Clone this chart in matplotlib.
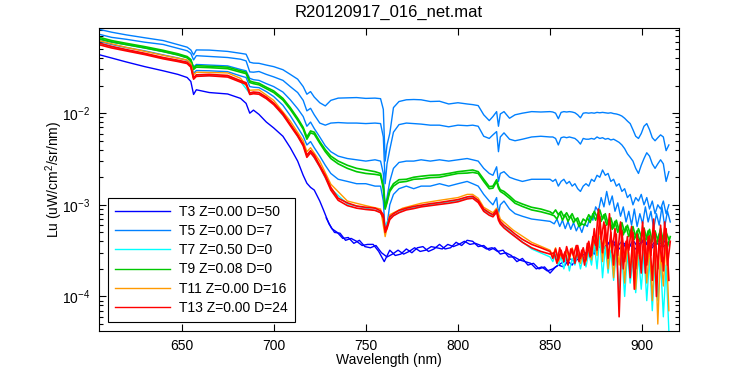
import numpy as np
import matplotlib
matplotlib.use('Agg')
import matplotlib.pyplot as plt
from matplotlib.ticker import LogLocator, FixedLocator, NullFormatter

plt.rcParams['font.family'] = ['Liberation Sans', 'DejaVu Sans']
plt.rcParams['font.size'] = 10
plt.rcParams['mathtext.fontset'] = 'custom'
plt.rcParams['mathtext.rm'] = 'Liberation Sans'
plt.rcParams['axes.unicode_minus'] = False

#------------------------
# Data (Lu in uW/cm^2/sr/nm)
#------------------------
# common wavelength grid for the smooth part of the spectra
wl_smooth = [605, 612, 620, 630, 640, 648, 653, 655, 656.5, 658, 665, 675, 682, 685, 687, 689,
             692, 696, 700, 705, 709, 713, 716, 718, 720, 722, 725, 728, 731, 735, 740, 745,
             750, 755, 758, 759.5, 760.5, 761.5, 763, 765, 768, 772, 776, 780, 785, 790, 795,
             800, 805, 808, 811, 814, 817, 819, 821, 822, 823, 825, 828, 831, 835, 840, 845, 850]
# noisy tail grids (second casts sampled half a step later)
wl_tail = np.arange(851.5, 915.0, 1.5)
wl_tail_b = np.arange(852.25, 915.5, 1.5)
# sparse grid for the mostly hidden T7 / T11 traces
wl_sparse = [605, 620, 640, 653, 655, 656.5, 658, 675, 682, 687, 692, 700, 709, 716, 718, 720,
             725, 731, 740, 750, 758, 760.5, 763, 770, 780, 790, 800, 805, 808, 811, 814, 819,
             821, 823, 830, 840, 850]
# T3 grid: smooth part then 3 nm steps in the noisy part
wl_t3_head = wl_smooth[:27]
wl_t3_noisy = np.arange(727, 914, 3)
wl_t3_noisy_b = np.arange(728.5, 915, 3)

# T3 Z=0.00 D=50
t3_head = [0.0436, 0.0400, 0.0362, 0.0322, 0.0290, 0.0265, 0.0245, 0.0222, 0.0160, 0.0180,
           0.0168, 0.0162, 0.0145, 0.0128, 0.0100, 0.0108, 0.0097, 0.0080, 0.0069, 0.0056,
           0.0042, 0.0030, 0.0021, 0.00172, 0.00155, 0.00145, 0.00110]
t3_a = [0.00088, 0.00062, 0.00050, 0.00049, 0.00041, 0.00043, 0.00040, 0.00036, 0.00037, 0.00037,
        0.00031, 0.00024, 0.00032, 0.00028, 0.00029, 0.00033, 0.00030, 0.00034, 0.00035, 0.00031,
        0.00033, 0.00037, 0.00033, 0.00034, 0.00039, 0.00036, 0.00041, 0.00040, 0.00035, 0.00036,
        0.00032, 0.00034, 0.00029, 0.00030, 0.00028, 0.00024, 0.00026, 0.00022, 0.00023, 0.00020,
        0.00021, 0.00018, 0.00021, 0.00023, 0.00025, 0.00022, 0.00028, 0.00025, 0.00034, 0.00029,
        0.00040, 0.00033, 0.00042, 0.00034, 0.00040, 0.00032, 0.00041, 0.00034, 0.00043, 0.00033,
        0.00040, 0.00035, 0.00042]
t3_b = [0.00072, 0.00055, 0.00050, 0.00043, 0.00044, 0.00038, 0.00041, 0.00035, 0.00034, 0.00036,
        0.00030, 0.00027, 0.00029, 0.00032, 0.00029, 0.00031, 0.00034, 0.00031, 0.00032, 0.00035,
        0.00034, 0.00033, 0.00037, 0.00035, 0.00037, 0.00040, 0.00037, 0.00038, 0.00036, 0.00033,
        0.00034, 0.00031, 0.00032, 0.00027, 0.00027, 0.00025, 0.00024, 0.00023, 0.00020, 0.00021,
        0.00019, 0.00020, 0.00022, 0.00021, 0.00026, 0.00024, 0.00027, 0.00030, 0.00028, 0.00036,
        0.00033, 0.00038, 0.00040, 0.00033, 0.00038, 0.00036, 0.00033, 0.00040, 0.00037, 0.00034,
        0.00041, 0.00035, 0.00039]

# T5 Z=0.00 D=7 (four casts at different levels)
t5_1 = [0.0824, 0.0765, 0.0715, 0.0665, 0.0620, 0.0560, 0.0525, 0.0490, 0.0432, 0.0490,
        0.0488, 0.0472, 0.0450, 0.0440, 0.0360, 0.0352, 0.0350, 0.0335, 0.0322, 0.0298,
        0.0265, 0.0235, 0.0195, 0.0161, 0.0172, 0.0150, 0.0130, 0.0120, 0.0138, 0.0146,
        0.0147, 0.0148, 0.0145, 0.0146, 0.0144, 0.0110, 0.0030, 0.0045, 0.0060, 0.0115,
        0.0134, 0.0140, 0.0141, 0.0140, 0.0134, 0.0135, 0.0126, 0.0130, 0.0126, 0.0124,
        0.0121, 0.0096, 0.0083, 0.0092, 0.0104, 0.0072, 0.0098, 0.0104, 0.0088, 0.0096,
        0.0100, 0.0104, 0.0103, 0.0104]
t5_1_tail = [0.0103, 0.0100, 0.0087, 0.0102, 0.0104, 0.0103, 0.0104, 0.0103, 0.0101, 0.0096,
             0.0089, 0.0100, 0.0101, 0.0100, 0.0101, 0.0100, 0.0102, 0.0101, 0.0102, 0.0101,
             0.0100, 0.0101, 0.0099, 0.0098, 0.0096, 0.0093, 0.0088, 0.0082, 0.0077, 0.0066,
             0.0056, 0.0053, 0.0060, 0.0072, 0.0077, 0.0066, 0.0054, 0.0050, 0.0054, 0.0058,
             0.0055, 0.0039, 0.0045]
t5_2 = [0.0728, 0.0672, 0.0640, 0.0595, 0.0562, 0.0510, 0.0480, 0.0450, 0.0381, 0.0424,
        0.0416, 0.0405, 0.0388, 0.0372, 0.0282, 0.0280, 0.0285, 0.0265, 0.0249, 0.0228,
        0.0195, 0.0168, 0.0138, 0.0106, 0.0113, 0.0096, 0.0078, 0.0074, 0.0078, 0.0079,
        0.0078, 0.0078, 0.0077, 0.0078, 0.0077, 0.0055, 0.0017, 0.0028, 0.0040, 0.0062,
        0.0075, 0.0078, 0.0077, 0.0076, 0.0074, 0.0074, 0.0071, 0.0074, 0.0073, 0.0074,
        0.0072, 0.0056, 0.0053, 0.0058, 0.0063, 0.0038, 0.0055, 0.0061, 0.0052, 0.0050,
        0.0052, 0.0055, 0.0056, 0.0055]
t5_2_tail = [0.0055, 0.0053, 0.0045, 0.0054, 0.0055, 0.0054, 0.0055, 0.0054, 0.0053, 0.0050,
             0.0046, 0.0053, 0.0052, 0.0052, 0.0053, 0.0052, 0.0055, 0.0053, 0.0054, 0.0052,
             0.0053, 0.0051, 0.0052, 0.0050, 0.0048, 0.0045, 0.0041, 0.0036, 0.0033, 0.0030,
             0.0025, 0.0022, 0.0027, 0.0032, 0.0037, 0.0034, 0.0028, 0.0025, 0.0028, 0.0031,
             0.0028, 0.0018, 0.0023]
t5_3 = [0.0640, 0.0595, 0.0560, 0.0515, 0.0470, 0.0432, 0.0405, 0.0380, 0.0320, 0.0340,
        0.0335, 0.0328, 0.0300, 0.0290, 0.0240, 0.0232, 0.0228, 0.0210, 0.0195, 0.0170,
        0.0140, 0.0112, 0.0092, 0.0072, 0.0080, 0.0068, 0.0055, 0.0044, 0.0038, 0.0034,
        0.0032, 0.0031, 0.0030, 0.0031, 0.0030, 0.0022, 0.0009, 0.0012, 0.0018, 0.0025,
        0.0029, 0.0030, 0.0030, 0.0031, 0.0030, 0.0031, 0.0030, 0.0031, 0.0032, 0.0031,
        0.0030, 0.0025, 0.0022, 0.0021, 0.0026, 0.0018, 0.0022, 0.0023, 0.0020, 0.0019,
        0.0018, 0.0019, 0.0019, 0.0019]
t5_3_tail = [0.0018, 0.0019, 0.0016, 0.0018, 0.0019, 0.0017, 0.0018, 0.0016, 0.0017, 0.0015,
             0.0014, 0.0016, 0.0017, 0.0016, 0.0019, 0.0018, 0.0021, 0.0020, 0.0024, 0.0021,
             0.0022, 0.0018, 0.0019, 0.0016, 0.0017, 0.0014, 0.0015, 0.0012, 0.0013, 0.0010,
             0.0012, 0.0011, 0.0013, 0.0010, 0.0012, 0.0009, 0.0011, 0.0008, 0.0010, 0.0009,
             0.0011, 0.0008, 0.0010]
t5_4 = [0.0610, 0.0562, 0.0520, 0.0478, 0.0432, 0.0400, 0.0378, 0.0350, 0.0272, 0.0292,
        0.0290, 0.0284, 0.0255, 0.0245, 0.0195, 0.0192, 0.0190, 0.0172, 0.0152, 0.0122,
        0.0094, 0.0070, 0.0056, 0.0045, 0.0049, 0.0042, 0.0034, 0.0027, 0.0022, 0.0019,
        0.0018, 0.0017, 0.0017, 0.0016, 0.0016, 0.0011, 0.0005, 0.0006, 0.0010, 0.0013,
        0.0015, 0.0016, 0.0015, 0.0016, 0.0016, 0.0017, 0.0016, 0.0017, 0.0018, 0.0017,
        0.0016, 0.0013, 0.0011, 0.0010, 0.0012, 0.0008, 0.0010, 0.0011, 0.0009, 0.0008,
        0.00075, 0.0007, 0.00068, 0.00066]
t5_4_tail = [0.00062, 0.00070, 0.00058, 0.00068, 0.00055, 0.00066, 0.00054, 0.00064, 0.00052,
             0.00060, 0.00050, 0.00062, 0.00058, 0.00075, 0.00068, 0.00095, 0.00085, 0.00120,
             0.00095, 0.00140, 0.00100, 0.00125, 0.00085, 0.00105, 0.00075, 0.00095, 0.00065,
             0.00085, 0.00060, 0.00090, 0.00058, 0.00080, 0.00062, 0.00095, 0.00065, 0.00085,
             0.00055, 0.00080, 0.00060, 0.00095, 0.00058, 0.00085, 0.00065]

# T7 Z=0.50 D=0
t7 = [0.0575, 0.0488, 0.0400, 0.0355, 0.0325, 0.0240, 0.0258, 0.0255, 0.0222, 0.0164,
      0.0166, 0.0127, 0.0075, 0.0045, 0.0034, 0.0038, 0.0026, 0.00150, 0.00102, 0.00092,
      0.00084, 0.00060, 0.00072, 0.00088, 0.00097, 0.00104, 0.00111, 0.00118, 0.00120, 0.00110,
      0.00088, 0.00076, 0.00086, 0.00064, 0.00047, 0.00033, 0.00027]
t7_tail = [2.4e-4, 2.9e-4, 2.2e-4, 2.7e-4, 2.0e-4, 2.8e-4, 1.9e-4, 2.6e-4, 2.2e-4, 2.9e-4,
           2.0e-4, 2.7e-4, 2.1e-4, 3.0e-4, 2.2e-4, 3.8e-4, 2.0e-4, 4.5e-4, 1.6e-4, 3.5e-4,
           1.8e-4, 3.2e-4, 1.5e-4, 3.0e-4, 1.2e-4, 2.8e-4, 1.0e-4, 3.0e-4, 1.4e-4, 2.5e-4,
           1.1e-4, 2.8e-4, 1.2e-4, 3.0e-4, 0.9e-4, 2.6e-4, 0.7e-4, 2.5e-4, 0.9e-4, 2.4e-4,
           0.6e-4, 2.2e-4, 0.42e-4]

# T9 Z=0.08 D=0 (two casts)
t9_a = [0.0675, 0.0620, 0.0578, 0.0532, 0.0485, 0.0445, 0.0415, 0.0385, 0.0312, 0.0330,
        0.0325, 0.0318, 0.0290, 0.0280, 0.0225, 0.0218, 0.0212, 0.0192, 0.0175, 0.0145,
        0.0115, 0.0088, 0.0070, 0.0055, 0.0064, 0.0062, 0.0049, 0.0040, 0.0034, 0.0030,
        0.0027, 0.0025, 0.0024, 0.0023, 0.0022, 0.0016, 0.00095, 0.0011, 0.00146, 0.0017,
        0.00188, 0.0019, 0.0020, 0.00205, 0.0021, 0.00212, 0.0022, 0.0023, 0.00236, 0.0024,
        0.0023, 0.0019, 0.00158, 0.0016, 0.00188, 0.0016, 0.00146, 0.0014, 0.00125, 0.0011,
        0.00102, 0.00094, 0.0009, 0.00084]
t9_a_tail = [0.00080, 0.00088, 0.00078, 0.00085, 0.00074, 0.00082, 0.00072, 0.00080, 0.00068,
             0.00072, 0.00060, 0.00070, 0.00066, 0.00078, 0.00070, 0.00085, 0.00074, 0.00088,
             0.00070, 0.00080, 0.00062, 0.00072, 0.00056, 0.00068, 0.00052, 0.00064, 0.00050,
             0.00060, 0.00048, 0.00058, 0.00044, 0.00055, 0.00045, 0.00056, 0.00042, 0.00054,
             0.00040, 0.00052, 0.00041, 0.00055, 0.00040, 0.00050, 0.00042]
t9_b = [0.0650, 0.0600, 0.0560, 0.0515, 0.0470, 0.0432, 0.0402, 0.0372, 0.0300, 0.0318,
        0.0314, 0.0306, 0.0280, 0.0270, 0.0216, 0.0210, 0.0204, 0.0185, 0.0168, 0.0139,
        0.0110, 0.0084, 0.0067, 0.0052, 0.0061, 0.0059, 0.0047, 0.0038, 0.0032, 0.0028,
        0.0025, 0.0023, 0.0022, 0.00215, 0.0021, 0.0015, 0.0009, 0.00105, 0.0014, 0.0016,
        0.00176, 0.0018, 0.0019, 0.00192, 0.00198, 0.0020, 0.0021, 0.0022, 0.00222, 0.00226,
        0.0022, 0.0018, 0.0015, 0.00152, 0.0018, 0.00152, 0.0014, 0.00132, 0.00118, 0.00104,
        0.00096, 0.00088, 0.00084, 0.00079]
t9_b_tail = [0.00076, 0.00070, 0.00082, 0.00068, 0.00078, 0.00066, 0.00075, 0.00064, 0.00070,
             0.00058, 0.00062, 0.00060, 0.00072, 0.00064, 0.00080, 0.00068, 0.00082, 0.00066,
             0.00078, 0.00060, 0.00070, 0.00054, 0.00066, 0.00050, 0.00062, 0.00047, 0.00058,
             0.00045, 0.00055, 0.00042, 0.00052, 0.00040, 0.00050, 0.00040, 0.00052, 0.00038,
             0.00050, 0.00037, 0.00048, 0.00036, 0.00047, 0.00035, 0.00045]

# T11 Z=0.00 D=16
t11 = [0.0620, 0.0522, 0.0428, 0.0380, 0.0350, 0.0262, 0.0280, 0.0275, 0.0240, 0.0178,
       0.0180, 0.0138, 0.0082, 0.0050, 0.0038, 0.0042, 0.0030, 0.00168, 0.00110, 0.00098,
       0.00090, 0.00045, 0.00078, 0.00092, 0.00104, 0.00112, 0.00120, 0.00130, 0.00130, 0.00118,
       0.00094, 0.00082, 0.00092, 0.00070, 0.00053, 0.00039, 0.00032]
t11_tail = [2.8e-4, 3.4e-4, 2.4e-4, 3.0e-4, 2.6e-4, 3.2e-4, 2.5e-4, 3.4e-4, 2.6e-4, 3.0e-4,
            2.3e-4, 3.3e-4, 2.4e-4, 3.6e-4, 2.5e-4, 4.8e-4, 2.8e-4, 6.0e-4, 2.4e-4, 5.0e-4,
            2.0e-4, 4.5e-4, 1.6e-4, 4.0e-4, 2.2e-4, 4.5e-4, 1.4e-4, 3.8e-4, 2.0e-4, 4.2e-4,
            1.2e-4, 3.5e-4, 2.2e-4, 4.0e-4, 1.4e-4, 3.6e-4, 0.9e-4, 4.0e-4, 0.5e-4, 3.2e-4,
            1.3e-4, 4.2e-4, 0.7e-4]

# T13 Z=0.00 D=24 (two casts)
t13_a = [0.0585, 0.0535, 0.0494, 0.0450, 0.0405, 0.0378, 0.0360, 0.0330, 0.0243, 0.0262,
         0.0265, 0.0258, 0.0226, 0.0215, 0.0166, 0.0170, 0.0168, 0.0150, 0.0129, 0.0100,
         0.0076, 0.0058, 0.0046, 0.0035, 0.0039, 0.0035, 0.0027, 0.0021, 0.00155, 0.00118,
         0.00105, 0.00097, 0.00094, 0.00092, 0.00086, 0.00078, 0.00054, 0.00058, 0.00074, 0.00080,
         0.00087, 0.00092, 0.00096, 0.00099, 0.00103, 0.00106, 0.00110, 0.00114, 0.00122, 0.00124,
         0.00112, 0.00090, 0.00082, 0.00078, 0.00088, 0.00072, 0.00066, 0.00060, 0.00054, 0.00048,
         0.00042, 0.00037, 0.00034, 0.00031]
t13_a_tail = [2.6e-4, 3.3e-4, 2.5e-4, 3.2e-4, 2.4e-4, 3.5e-4, 2.7e-4, 3.3e-4, 2.3e-4, 3.6e-4,
              2.6e-4, 3.4e-4, 2.5e-4, 4.0e-4, 2.8e-4, 5.5e-4, 3.2e-4, 7.5e-4, 3.0e-4, 6.0e-4,
              2.6e-4, 5.0e-4, 2.2e-4, 4.8e-4, 0.6e-4, 5.2e-4, 2.4e-4, 4.5e-4, 1.6e-4, 5.0e-4,
              2.0e-4, 4.2e-4, 1.8e-4, 5.5e-4, 2.2e-4, 4.6e-4, 1.5e-4, 5.0e-4, 2.0e-4, 6.0e-4,
              1.9e-4, 5.5e-4, 1.5e-4]
t13_b = [0.0560, 0.0515, 0.0478, 0.0436, 0.0392, 0.0366, 0.0348, 0.0318, 0.0235, 0.0252,
         0.0256, 0.0248, 0.0218, 0.0207, 0.0160, 0.0163, 0.0161, 0.0144, 0.0124, 0.0096,
         0.0073, 0.0056, 0.0044, 0.0033, 0.0037, 0.0033, 0.0026, 0.0020, 0.00145, 0.00112,
         0.00098, 0.00092, 0.00089, 0.00087, 0.00082, 0.00072, 0.00050, 0.00055, 0.00069, 0.00076,
         0.00082, 0.00088, 0.00091, 0.00095, 0.00098, 0.00101, 0.00104, 0.00108, 0.00116, 0.00118,
         0.00106, 0.00085, 0.00077, 0.00074, 0.00083, 0.00068, 0.00062, 0.00056, 0.00050, 0.00045,
         0.00039, 0.00034, 0.00031, 0.00029]
t13_b_tail = [3.0e-4, 2.3e-4, 3.4e-4, 2.6e-4, 3.1e-4, 2.2e-4, 3.3e-4, 2.8e-4, 3.6e-4, 2.4e-4,
              3.2e-4, 2.2e-4, 3.8e-4, 2.7e-4, 4.5e-4, 3.6e-4, 9.0e-4, 4.2e-4, 6.5e-4, 3.5e-4,
              8.0e-4, 3.0e-4, 5.5e-4, 2.8e-4, 6.5e-4, 2.0e-4, 4.0e-4, 3.2e-4, 5.8e-4, 1.2e-4,
              4.8e-4, 2.6e-4, 6.5e-4, 1.8e-4, 4.5e-4, 2.8e-4, 7.0e-4, 1.0e-4, 4.2e-4, 2.4e-4,
              6.5e-4, 2.2e-4, 4.0e-4]

labels = ['T3 Z=0.00 D=50', 'T5 Z=0.00 D=7', 'T7 Z=0.50 D=0',
          'T9 Z=0.08 D=0', 'T11 Z=0.00 D=16', 'T13 Z=0.00 D=24']
colors = ['#0000ff', '#0080ff', '#00ffff', '#00c800', '#ff9900', '#ff0000']

#-------------
# Plot
#-------------
fig = plt.figure(figsize=(7.5, 3.75), dpi=100)
ax = fig.add_axes([98.7 / 750, 44 / 375, 580.3 / 750, 303 / 375])

wl_full = list(wl_smooth) + list(wl_tail)
wl_full_b = list(wl_smooth) + list(wl_tail_b)
wl_sparse_full = list(wl_sparse) + list(wl_tail)
lw = 1.0

# T3
h3, = ax.plot(list(wl_t3_head) + list(wl_t3_noisy), t3_head + t3_a, color=colors[0], lw=lw)
ax.plot(wl_t3_noisy_b, t3_b, color=colors[0], lw=lw)
# T5
h5, = ax.plot(wl_full, t5_1 + t5_1_tail, color=colors[1], lw=lw)
ax.plot(wl_full, t5_2 + t5_2_tail, color=colors[1], lw=lw)
ax.plot(wl_full, t5_3 + t5_3_tail, color=colors[1], lw=lw)
ax.plot(wl_full_b, t5_4 + t5_4_tail, color=colors[1], lw=lw)
# T7
h7, = ax.plot(wl_sparse_full, t7 + t7_tail, color=colors[2], lw=lw)
# T9
h9, = ax.plot(wl_full, t9_a + t9_a_tail, color=colors[3], lw=1.2)
ax.plot(wl_full_b, t9_b + t9_b_tail, color=colors[3], lw=1.2)
# T11
h11, = ax.plot(wl_sparse_full, t11 + t11_tail, color=colors[4], lw=lw)
# T13
h13, = ax.plot(wl_full, t13_a + t13_a_tail, color=colors[5], lw=1.2)
ax.plot(wl_full_b, t13_b + t13_b_tail, color=colors[5], lw=1.2)

ax.set_yscale('log')
ax.set_xlim(605, 920)
ax.set_ylim(4.2e-5, 0.085)
ax.xaxis.set_major_locator(FixedLocator([650, 700, 750, 800, 850, 900]))
ax.yaxis.set_major_locator(LogLocator(base=10, numticks=10))
ax.yaxis.set_minor_locator(LogLocator(base=10, subs=np.arange(2, 10), numticks=10))
ax.yaxis.set_minor_formatter(NullFormatter())
ax.tick_params(which='both', direction='in', top=True, right=True, width=0.8)
ax.tick_params(which='major', length=5, pad=6)
ax.tick_params(which='minor', length=3)
for s in ax.spines.values():
    s.set_linewidth(0.8)

ax.set_xlabel('Wavelength (nm)', labelpad=0)
ax.set_ylabel(r'Lu (uW/cm$^2$/sr/nm)', labelpad=-2)
ax.set_title('R20120917_016_net.mat', pad=8)

leg = ax.legend([h3, h5, h7, h9, h11, h13], labels, loc='lower left',
                bbox_to_anchor=(0.016, 0.030), borderaxespad=0, fancybox=False,
                edgecolor='black', framealpha=1, handlelength=4.0, handletextpad=0.6,
                labelspacing=0.38, borderpad=0.5)
leg.get_frame().set_linewidth(0.8)
for h in leg.get_lines():
    h.set_linewidth(1.0)

plt.savefig('out.png', dpi=100)
plt.close()
